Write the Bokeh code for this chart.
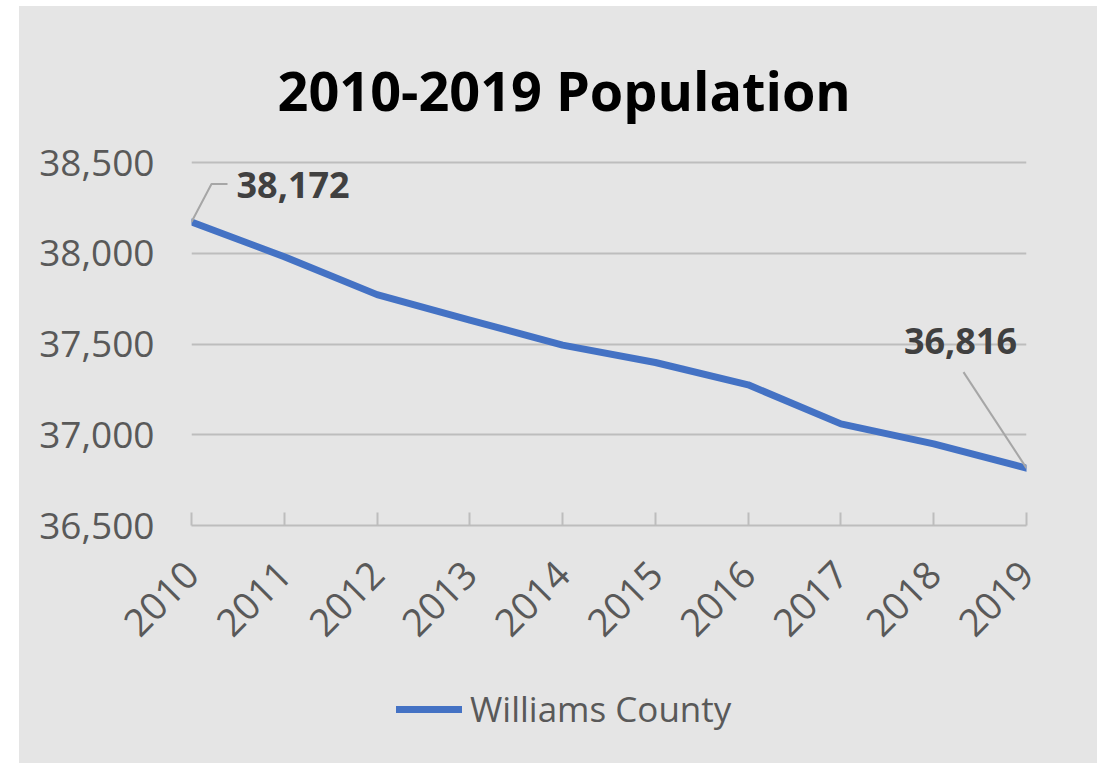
from bokeh.plotting import figure
from bokeh.models import (FixedTicker, NumeralTickFormatter, Label, Legend, LegendItem, Range1d, Spacer)
from bokeh.layouts import row, column
from bokeh.embed import file_html
from bokeh.resources import INLINE
import math

# ---- data ----
years = [2010, 2011, 2012, 2013, 2014, 2015, 2016, 2017, 2018, 2019]
population = [38172, 37981, 37772, 37631, 37494, 37398, 37275, 37060, 36950, 36816]
series_name = "Williams County"
title_text = "2010-2019 Population"
y_ticks = [36500, 37000, 37500, 38000, 38500]
x_tick_labels = [str(y) for y in years]

FONT = "Open Sans"
BG = "#e5e5e5"
BLUE = "#4472C4"
LABEL_GRAY = "#595959"
GRID = "#bdbdbd"

W, H1, H2 = 1078, 660, 97
ML, MR, MT, MB = 172, 71, 153, 141
FW, FH = W - ML - MR, H1 - MT - MB
TOP_PAD_PX = 3
y_span_per_px = (y_ticks[-1] - y_ticks[0]) / (FH - TOP_PAD_PX)

p = figure(width=W, height=H1, output_backend="svg", toolbar_location=None,
           x_range=Range1d(years[0], years[-1]),
           y_range=Range1d(y_ticks[0], y_ticks[-1] + TOP_PAD_PX * y_span_per_px),
           min_border_left=ML, min_border_right=MR, min_border_top=MT, min_border_bottom=MB)
p.background_fill_color = None
p.border_fill_color = None
p.outline_line_color = None

# title
p.title.text = title_text
p.title.align = "left"
p.title.offset = 86
p.title.text_font = FONT
p.title.text_font_size = "54px"
p.title.text_font_style = "bold"
p.title.text_color = "black"
p.title.standoff = 66

# axes
p.xaxis.ticker = FixedTicker(ticks=years)
p.xaxis.major_label_overrides = {y: s for y, s in zip(years, x_tick_labels)}
p.xaxis.major_label_orientation = math.pi / 4
p.xaxis.major_label_text_font = FONT
p.xaxis.major_label_text_font_size = "38px"
p.xaxis.major_label_text_color = LABEL_GRAY
p.xaxis.major_label_standoff = 42
p.xaxis.axis_line_color = GRID
p.xaxis.axis_line_width = 2
p.xaxis.major_tick_line_color = GRID
p.xaxis.major_tick_line_width = 2
p.xaxis.major_tick_in = 13
p.xaxis.major_tick_out = 0
p.xaxis.minor_tick_line_color = None

p.yaxis.ticker = FixedTicker(ticks=y_ticks)
p.yaxis.formatter = NumeralTickFormatter(format="0,0")
p.yaxis.major_label_text_font = FONT
p.yaxis.major_label_text_font_size = "37px"
p.yaxis.major_label_text_color = LABEL_GRAY
p.yaxis.major_label_standoff = 31
p.yaxis.axis_line_color = None
p.yaxis.major_tick_line_color = None
p.yaxis.minor_tick_line_color = None

p.xgrid.grid_line_color = None
p.ygrid.ticker = FixedTicker(ticks=y_ticks[1:])
p.ygrid.grid_line_color = GRID
p.ygrid.grid_line_width = 2

# series line
r = p.line(years, population, line_color=BLUE, line_width=7, line_cap="round", line_join="round")

# pixel -> data conversion for leader lines
dxp = (years[-1] - years[0]) / FW
dyp = y_span_per_px

# leader lines for first and last points
x0, v0 = years[0], population[0]
x1, v1 = years[-1], population[-1]
p.line([x0, x0 + 20 * dxp, x0 + 36 * dxp], [v0, v0 + 38 * dyp, v0 + 38 * dyp],
       line_color="#a6a6a6", line_width=2)
p.line([x1, x1 - 63 * dxp], [v1, v1 + 96 * dyp], line_color="#a6a6a6", line_width=2)

# data labels
p.add_layout(Label(x=x0, y=v0, text=f"{v0:,}", x_offset=45, y_offset=37,
                   text_align="left", text_baseline="middle", text_font=FONT,
                   text_font_size="36px", text_font_style="bold", text_color="#404040"))
p.add_layout(Label(x=x1, y=v1, text=f"{v1:,}", x_offset=-66, y_offset=127,
                   text_align="center", text_baseline="middle", text_font=FONT,
                   text_font_size="36px", text_font_style="bold", text_color="#404040"))

# legend strip (separate figure below the chart)
pl = figure(width=W, height=H2, output_backend="svg", toolbar_location=None,
            x_axis_type=None, y_axis_type=None,
            min_border_left=ML, min_border_right=MR, min_border_top=0, min_border_bottom=0,
            x_range=Range1d(0, 1), y_range=Range1d(0, 1))
pl.background_fill_color = None
pl.border_fill_color = None
pl.outline_line_color = None
# single-point line: draws nothing, only supplies the legend's glyph style
rl = pl.line(years[:1], population[:1], line_color=BLUE, line_width=7, line_cap="round")
legend = Legend(items=[LegendItem(label=series_name, renderers=[rl])],
                location=(205, 31), orientation="horizontal",
                glyph_width=66, glyph_height=40, label_height=40, label_standoff=8,
                padding=0, margin=0, spacing=0,
                background_fill_alpha=0, border_line_alpha=0,
                label_text_font=FONT, label_text_font_size="35px",
                label_text_color=LABEL_GRAY)
pl.add_layout(legend, "center")

chart = column(p, pl, styles={"background-color": BG})
layout = column(Spacer(width=W, height=6), row(Spacer(width=19, height=H1 + H2), chart))
open("out.html", "w").write(file_html(layout, INLINE))
